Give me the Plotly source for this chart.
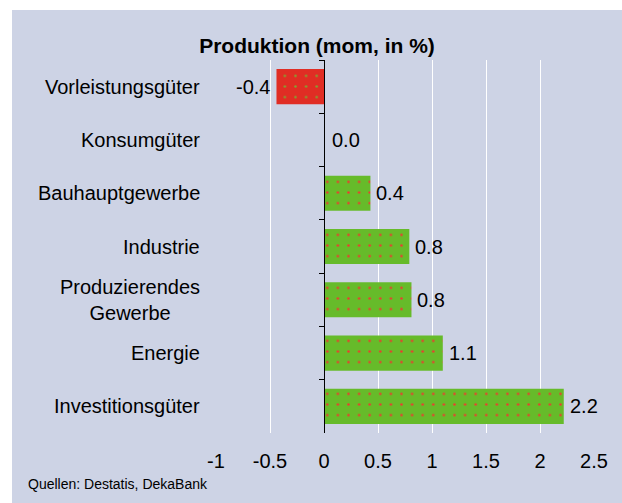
import plotly.graph_objects as go

# ---- data ----
categories = ["Vorleistungsgüter", "Konsumgüter", "Bauhauptgewerbe", "Industrie",
              "Produzierendes<br>Gewerbe", "Energie", "Investitionsgüter"]
values = [-0.44, 0.0, 0.43, 0.79, 0.81, 1.10, 2.22]
value_labels = [f"{v:.1f}" for v in values]
x_tick_vals = [-1, -0.5, 0, 0.5, 1, 1.5, 2, 2.5]
x_tick_labels = ["-1", "-0.5", "0", "0.5", "1", "1.5", "2", "2.5"]
title_text = "Produktion (mom, in %)"
source_text = "Quellen: Destatis, DekaBank"

# ---- style ----
W, H = 622, 503
ML, MR, MT, MB = 216, 28, 60, 70
PW, PH = W - ML - MR, H - MT - MB
BG = "#CDD3E5"
GREEN = "#66BB2A"
RED = "#E02D24"
DOT_ON_GREEN = "#E8402E"
DOT_ON_RED = "#86A030"
FONT = "Liberation Sans, Arial, sans-serif"
XMIN, XMAX = -1, 2.5

fig = go.Figure()
for is_neg, bg, dot in [(True, RED, DOT_ON_RED), (False, GREEN, DOT_ON_GREEN)]:
    xs = [v if (v < 0) == is_neg else None for v in values]
    fig.add_trace(go.Bar(
        y=categories, x=xs, orientation="h", width=0.66,
        marker=dict(color=bg, line=dict(width=0),
                    pattern=dict(shape=".", fgcolor=dot, bgcolor=bg, fgopacity=1,
                                 size=10.6, solidity=0.045, fillmode="overlay")),
        hoverinfo="skip",
    ))

# value labels next to bar ends
for c, v, t in zip(categories, values, value_labels):
    neg = v < 0
    fig.add_annotation(text=t, x=v, y=c, xref="x", yref="y",
                       xanchor="right" if neg else "left", yanchor="middle",
                       xshift=-4 if neg else (6 if v == 0 else 4),
                       showarrow=False, font=dict(family=FONT, size=20, color="black"))

def px_x(px):
    return (px - ML) / PW

def px_y(py):
    return (MT + PH - py) / PH

# background panel (leaves white band at top/left)
fig.add_shape(type="rect", xref="paper", yref="paper",
              x0=px_x(12), x1=px_x(W + 2), y0=px_y(H + 2), y1=px_y(10),
              fillcolor=BG, line=dict(width=0), layer="below")

# category labels as centered multi-line annotations
for c in categories:
    fig.add_annotation(text=c, xref="paper", yref="y", x=px_x(202), y=c,
                       xanchor="right", yanchor="middle", align="center",
                       showarrow=False, font=dict(family=FONT, size=20, color="black"))

fig.add_annotation(text=source_text, xref="paper", yref="paper",
                   x=px_x(26), y=px_y(484), xanchor="left", yanchor="middle",
                   showarrow=False, font=dict(family=FONT, size=14, color="black"))

fig.update_layout(
    width=W, height=H,
    margin=dict(l=ML, r=MR, t=MT, b=MB, autoexpand=False),
    paper_bgcolor="white", plot_bgcolor="rgba(0,0,0,0)",
    showlegend=False, barmode="relative",
    title=dict(text=f"<b>{title_text}</b>", xref="container", yref="container",
               x=317 / W, y=1 - 46 / H, xanchor="center", yanchor="middle",
               font=dict(family=FONT, size=21, color="black")),
    xaxis=dict(range=[XMIN, XMAX], tickvals=x_tick_vals, ticktext=x_tick_labels,
               showgrid=True, gridcolor="white", gridwidth=1, zeroline=False,
               showline=False, ticks="", ticklabelstandoff=14,
               tickfont=dict(family=FONT, size=20, color="black")),
    yaxis=dict(autorange="reversed", anchor="free",
               categoryorder="array", categoryarray=categories,
               position=(0 - XMIN) / (XMAX - XMIN),
               showline=True, linecolor="black", linewidth=1,
               ticks="outside", tickson="boundaries", ticklen=5, tickcolor="black",
               showticklabels=False, showgrid=False, zeroline=False),
    font=dict(family=FONT, color="black"),
)

fig.write_html("out.html", config={"displayModeBar": False},
               post_script="document.body.style.margin='0';document.body.style.overflow='hidden';")
